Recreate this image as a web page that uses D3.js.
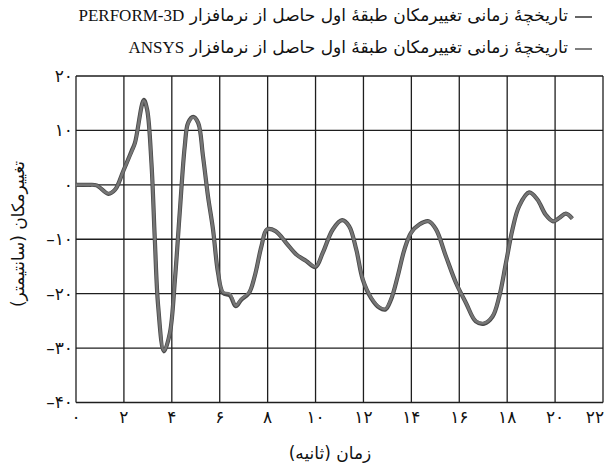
<!DOCTYPE html>
<html><head><meta charset="utf-8">
<script src="https://cdn.jsdelivr.net/npm/d3@7"></script>
<style>
body{margin:0;background:#fff;}
svg{display:block;}
text{font-family:"DejaVu Sans",sans-serif;}
</style></head>
<body>
<svg id="c" width="606" height="470"></svg>
<script>
// ---- data ----
const faDigits = d => String(d).replace(/\d/g, c => "۰۱۲۳۴۵۶۷۸۹"[+c]);
const xTicks = [0,2,4,6,8,10,12,14,16,18,20,22];
const yTicks = [20,10,0,-10,-20,-30,-40];
const seriesNames = ["PERFORM-3D","ANSYS"];
const legendPrefix = "تاریخچهٔ زمانی تغییرمکان طبقهٔ اول حاصل از نرمافزار ";
const xTitle = "زمان (ثانیه)";
const yTitle = "تغییرمکان (سانتیمتر)";

const time = [0,0.5,0.86,1.35,1.63,1.97,2.32,2.46,2.83,2.97,3.15,3.29,3.43,3.67,3.92,4.13,4.33,4.54,4.68,4.89,5.1,5.3,5.51,5.72,5.93,6.14,6.42,6.67,6.9,7.22,7.46,7.74,7.97,8.33,8.78,9.2,9.61,10,10.3,10.72,11.11,11.4,11.7,11.97,12.32,12.67,12.92,13.15,13.43,13.71,13.99,14.33,14.72,15.03,15.44,15.86,16.28,16.69,17.04,17.39,17.67,17.95,18.22,18.5,18.92,19.26,19.61,19.92,20.17,20.45,20.72];
const perform3d = [0,0,-0.1,-1.65,-0.9,2.5,6.2,7.7,15.6,13.8,4,-10,-22.3,-30.6,-27.2,-17.4,-5.1,7.1,11.4,12.5,11.4,5.3,-2.1,-8.2,-16.2,-19.9,-20.3,-22.3,-21.1,-19.9,-16.8,-11.3,-8.2,-8.5,-10.7,-12.8,-14,-15.1,-12.5,-8.2,-6.5,-7.6,-11.9,-17.4,-20.8,-22.6,-22.9,-21.1,-16.8,-11.9,-8.8,-7.3,-6.7,-8.2,-13.1,-18,-21.7,-25.1,-25.5,-24.2,-20.5,-14.3,-8.2,-3.9,-1.4,-2.7,-5.5,-6.7,-6.1,-5.3,-6.2];
const ansys =     [0,0,-0.1,-1.6,-0.9,2.5,6.1,7.6,15.5,13.8,4,-10,-22.2,-30.5,-27.2,-17.4,-5.1,7.1,11.3,12.4,11.4,5.3,-2.1,-8.2,-16.1,-19.7,-20.0,-22.2,-21.0,-19.8,-16.8,-11.3,-8.2,-8.5,-10.7,-12.8,-14,-15.0,-12.5,-8.2,-6.5,-7.6,-11.9,-17.3,-20.7,-22.5,-22.8,-21.0,-16.8,-11.9,-8.8,-7.3,-6.7,-8.2,-13.1,-18,-21.7,-25.0,-25.4,-24.1,-20.5,-14.3,-8.2,-3.9,-1.4,-2.7,-5.5,-6.7,-6.1,-5.3,-6.2];

// ---- layout ----
const svg = d3.select("#c");
const x = d3.scaleLinear().domain([0,22]).range([76,603]);
const y = d3.scaleLinear().domain([-40,20]).range([402.5,76]);

// grid
const g = svg.append("g");
g.selectAll("line.v").data(xTicks).join("line")
  .attr("x1", d=>x(d)).attr("x2", d=>x(d)).attr("y1", y(20)).attr("y2", y(-40))
  .attr("stroke","#1e1e1e").attr("stroke-width",1.3);
g.selectAll("line.h").data(yTicks).join("line")
  .attr("x1", x(0)).attr("x2", x(22)).attr("y1", d=>y(d)).attr("y2", d=>y(d))
  .attr("stroke","#1e1e1e").attr("stroke-width",1.3);

// tick labels
const fmt = d => (d<0 ? "–" : "") + faDigits(Math.abs(d));
svg.selectAll("text.yt").data(yTicks).join("text")
  .attr("x", 73).attr("y", d=>y(d)).attr("dy","0.35em")
  .attr("text-anchor","end").attr("font-size",17).attr("fill","#111")
  .text(fmt);
svg.selectAll("text.xt").data(xTicks).join("text")
  .attr("x", d=> d===22 ? 595 : x(d)).attr("y", 423)
  .attr("text-anchor","middle").attr("font-size",17).attr("fill","#111")
  .text(fmt);

// lines
const line = arr => d3.line().x((d,i)=>x(time[i])).y(d=>y(d)).curve(d3.curveCatmullRom.alpha(0.5))(arr);
svg.append("path").attr("d", line(perform3d)).attr("fill","none")
  .attr("stroke","#4a4a4a").attr("stroke-width",4.2).attr("stroke-linejoin","round");
svg.append("path").attr("d", line(ansys)).attr("fill","none")
  .attr("stroke","#767676").attr("stroke-width",2.6).attr("stroke-linejoin","round");

// legend
seriesNames.forEach((name,i)=>{
  const ly = 15 + i*32;
  svg.append("line").attr("x1",575).attr("x2",592).attr("y1",ly+2).attr("y2",ly+2)
    .attr("stroke", i===0 ? "#333" : "#555").attr("stroke-width",1.5);
  const t = svg.append("text").attr("x",568).attr("y",ly).attr("dy","0.35em")
    .attr("direction","rtl").attr("text-anchor","start").attr("font-size",17).attr("fill","#111");
  t.append("tspan").text(legendPrefix);
  t.append("tspan").attr("font-family","'Liberation Serif',serif").attr("font-size",17).text(name);
});

// axis titles
svg.append("text").attr("x",330).attr("y",453).attr("dy","0.35em")
  .attr("text-anchor","middle").attr("font-size",17).attr("fill","#111").text(xTitle);
svg.append("text").attr("transform","translate(18,234) rotate(-90)").attr("dy","0.35em")
  .attr("text-anchor","middle").attr("font-size",17).attr("fill","#111").text(yTitle);
</script>
</body></html>
